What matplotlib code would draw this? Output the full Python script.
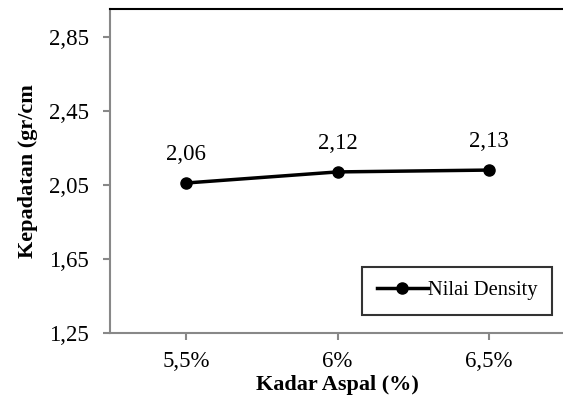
import matplotlib.pyplot as plt

plt.rcParams['font.family'] = ['Liberation Serif', 'DejaVu Serif']

kadar = ["5,5%", "6%", "6,5%"]
density = [2.06, 2.12, 2.13]
density_labels = ["2,06", "2,12", "2,13"]
yticks = [1.25, 1.65, 2.05, 2.45, 2.85]
ytick_labels = ["1,25", "1,65", "2,05", "2,45", "2,85"]

fig = plt.figure(figsize=(5.63, 4.05), dpi=100)
ax = fig.add_axes([0.1954, 0.1778, 0.8082, 0.8000])

x = list(range(len(kadar)))
ax.plot(x, density, color="black", linewidth=2.5, marker="o", markersize=8,
        label="Nilai Density")
for xi, yi, lab in zip(x, density, density_labels):
    ax.annotate(lab, (xi, yi), xytext=(0, 13), textcoords="offset points",
                ha="center", va="bottom", fontsize=16.5)

ax.set_xlim(-0.5, 2.5)
ax.set_ylim(1.25, 3.0)
ax.set_xticks(x)
ax.set_xticklabels(kadar, fontsize=16.5)
ax.set_yticks(yticks)
ax.set_yticklabels(ytick_labels, fontsize=16.5)

ax.spines["left"].set_color("#888888")
ax.spines["bottom"].set_color("#888888")
ax.spines["left"].set_linewidth(1.5)
ax.spines["bottom"].set_linewidth(1.5)
ax.spines["top"].set_linewidth(1.5)
ax.spines["right"].set_visible(False)
ax.tick_params(axis="both", colors="#888888", labelcolor="black", width=1.5, length=5)
ax.tick_params(axis="x", pad=8)
ax.tick_params(axis="y", pad=10)

ax.set_xlabel("Kadar Aspal (%)", fontsize=16, fontweight="bold", labelpad=2)
ax.set_ylabel("Kepadatan (gr/cm", fontsize=16, fontweight="bold", labelpad=8)

leg = ax.legend(loc="lower right", bbox_to_anchor=(0.971, 0.056), fontsize=14.8,
                frameon=True, fancybox=False, edgecolor="black", handlelength=2.5,
                handletextpad=0.0, borderpad=0.7, borderaxespad=0)
leg.get_frame().set_linewidth(1.5)

plt.savefig("out.png", dpi=100)
